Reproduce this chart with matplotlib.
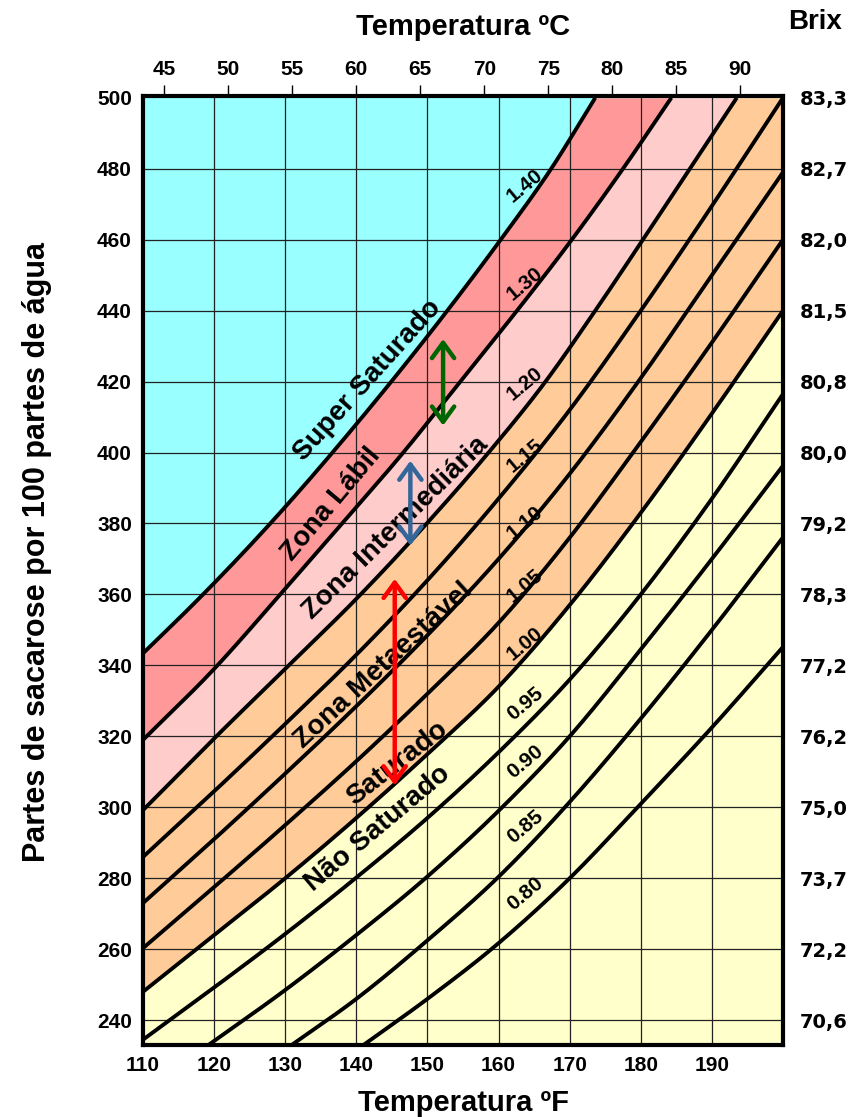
import numpy as np
import matplotlib.pyplot as plt

# each curve: temperature (°F) and parts of sucrose per 100 parts of water
t_140 = [110, 117.6, 127.9, 140, 152.8, 160.3, 167.4, 173.6]
s_140 = [343.4, 358.3, 380, 408, 440, 460, 480, 500]

t_130 = [110, 120, 129.3, 138.0, 146.6, 154.6, 162.6, 170.3, 177.5, 184.3]
s_130 = [319, 339, 360, 380, 400, 420, 440, 460, 480, 500]

t_120 = [110, 120.3, 130.5, 140.6, 149.9, 158.6, 166.6, 173.6, 180.3, 186.9, 193.5]
s_120 = [299.2, 320, 340, 360, 380, 400, 420, 440, 460, 480, 500]

t_grid = [110, 120, 130, 140, 150, 160, 170, 180, 190, 200]
s_115 = [286, 304.5, 323.5, 343, 364, 387, 412, 440, 469.5, 500]
s_110 = [273, 291, 309.5, 328.5, 348.5, 370, 394, 421, 450, 479]
s_105 = [260.3, 277.5, 295, 313, 332, 352, 376, 403, 431, 460]
s_100 = [248, 264, 280, 297, 315, 334, 357, 383, 411, 440]
s_095 = [234.5, 249.2, 264.3, 280.2, 297, 315.5, 336, 360, 387, 416.5]

t_090 = [119.2, 130, 140, 150, 160, 170, 180, 190, 200]
s_090 = [233, 248.5, 264, 280.5, 299, 320, 344.5, 370, 396.3]

t_085 = [130.9, 140, 150, 160, 170, 180, 190, 200]
s_085 = [233, 246, 262.5, 280.4, 301.5, 325, 350, 376.1]

t_080 = [141.0, 150, 160, 170, 180, 190, 200]
s_080 = [233, 246, 261.7, 280, 301, 322.5, 345.2]

coef_labels = ['1.40', '1.30', '1.20', '1.15', '1.10', '1.05', '1.00',
               '0.95', '0.90', '0.85', '0.80']
coef_label_s = [475.2, 447.5, 419.4, 399.2, 380.3, 362.5, 346.1,
                329.2, 312.8, 294.5, 275.7]

zone_names = ['Super Saturado', 'Zona Lábil', 'Zona Intermediária',
              'Zona Metaestável', 'Saturado', 'Não Saturado']
zone_t = [141.6, 136.5, 145.6, 143.8, 145.7, 143.0]
zone_s = [420.3, 385.5, 378.6, 340.0, 312.4, 294.0]
zone_rot = [48, 50, 44.5, 42.6, 38, 40]

# double arrows: temperature, low, high
arrow_t = [152.2, 147.6, 145.4]
arrow_lo = [407.6, 373.8, 306.2]
arrow_hi = [432.0, 397.7, 364.4]
arrow_colors = ['#006600', '#336699', '#ff0000']

y_ticks = list(range(240, 501, 20))
brix = ['70,6', '72,2', '73,7', '75,0', '76,2', '77,2', '78,3', '79,2',
        '80,0', '80,8', '81,5', '82,0', '82,7', '83,3']
x_ticks = list(range(110, 191, 10))
celsius = [45, 50, 55, 60, 65, 70, 75, 80, 85, 90]


def smooth(t, s, n=300):
    # cubic Hermite through the read points, for drawing only
    t = np.asarray(t, float)
    s = np.asarray(s, float)
    h = np.diff(t)
    d = np.diff(s) / h
    m = np.empty_like(s)
    m[1:-1] = (d[:-1] * h[1:] + d[1:] * h[:-1]) / (h[:-1] + h[1:])
    m[0] = d[0]
    m[-1] = d[-1]
    ts = np.linspace(t[0], t[-1], n)
    i = np.clip(np.searchsorted(t, ts) - 1, 0, len(h) - 1)
    u = (ts - t[i]) / h[i]
    ys = ((2 * u**3 - 3 * u**2 + 1) * s[i] + (u**3 - 2 * u**2 + u) * h[i] * m[i]
          + (-2 * u**3 + 3 * u**2) * s[i + 1] + (u**3 - u**2) * h[i] * m[i + 1])
    return ts, ys


plt.rcParams['font.family'] = ['Liberation Sans', 'DejaVu Sans']
plt.rcParams['font.weight'] = 'bold'

X0, X1, Y0, Y1 = 110, 200, 233, 500.5

fig = plt.figure(figsize=(8.57, 11.17), dpi=100)
ax = fig.add_axes([143 / 857, 1 - 1045 / 1117, 640 / 857, 949 / 1117])
ax.set_xlim(X0, X1)
ax.set_ylim(Y0, Y1)

lines = [(t_140, s_140), (t_130, s_130), (t_120, s_120),
         (t_grid, s_115), (t_grid, s_110), (t_grid, s_105),
         (t_grid, s_100), (t_grid, s_095),
         (t_090, s_090), (t_085, s_085), (t_080, s_080)]
drawn = [smooth(t, s) for t, s in lines]

xs = np.linspace(X0, X1, 800)
c140 = np.interp(xs, *drawn[0])
c130 = np.interp(xs, *drawn[1])
c120 = np.interp(xs, *drawn[2])
c100 = np.interp(xs, *drawn[6])

ax.fill_between(xs, c140, Y1, color='#99ffff', lw=0)
ax.fill_between(xs, c130, c140, color='#ff9999', lw=0)
ax.fill_between(xs, c120, c130, color='#ffcccc', lw=0)
ax.fill_between(xs, c100, c120, color='#ffcc99', lw=0)
ax.fill_between(xs, Y0, c100, color='#ffffcc', lw=0)

for x in x_ticks[1:]:
    ax.axvline(x, color='#222222', lw=0.9, zorder=1)
for y in y_ticks[:-1]:
    ax.axhline(y, color='#222222', lw=0.9, zorder=1)

for ts, ys in drawn:
    ax.plot(ts, ys, color='black', lw=2.8, zorder=3, solid_capstyle='butt')

for lab, s in zip(coef_labels, coef_label_s):
    ax.text(163.7, s, lab, fontsize=15, fontweight='bold', rotation=40,
            rotation_mode='anchor', ha='center', va='center', zorder=5)

for name, t, s, r in zip(zone_names, zone_t, zone_s, zone_rot):
    ax.text(t, s, name, fontsize=20, fontweight='bold', rotation=r,
            rotation_mode='anchor', ha='center', va='center', zorder=5)

for t, lo, hi, col in zip(arrow_t, arrow_lo, arrow_hi, arrow_colors):
    ax.annotate('', xy=(t, lo), xytext=(t, hi),
                arrowprops=dict(arrowstyle='<->,head_length=0.55,head_width=0.4',
                                mutation_scale=20, color=col, lw=3.2,
                                shrinkA=0, shrinkB=0),
                zorder=6)

ax.set_xticks(x_ticks)
ax.set_xticklabels([str(v) for v in x_ticks])
ax.set_yticks(y_ticks)
ax.set_yticklabels([str(v) for v in y_ticks])
ax.tick_params(axis='both', length=0, labelsize=15, pad=8)
ax.set_xlabel('Temperatura ºF', fontsize=21, fontweight='bold', labelpad=10)
ax.set_ylabel('Partes de sacarose por 100 partes de água', fontsize=22,
              fontweight='bold')
ax.yaxis.set_label_coords(-0.142, 0.52)
for sp in ax.spines.values():
    sp.set_linewidth(3)
    sp.set_zorder(10)

ax_r = ax.twinx()
ax_r.set_ylim(Y0, Y1)
ax_r.set_yticks(y_ticks)
ax_r.set_yticklabels(brix, fontfamily='DejaVu Sans', fontweight='bold')
ax_r.tick_params(axis='y', length=0, labelsize=14, pad=12)
for sp in ax_r.spines.values():
    sp.set_visible(False)

ax_t = ax.twiny()
ax_t.set_xlim(X0, X1)
ax_t.set_xticks([c * 9 / 5 + 32 for c in celsius])
ax_t.set_xticklabels([str(c) for c in celsius])
ax_t.tick_params(axis='x', length=8, width=1, labelsize=15, pad=4)
for sp in ax_t.spines.values():
    sp.set_visible(False)
ax_t.set_xlabel('Temperatura ºC', fontsize=21, fontweight='bold', labelpad=18)

fig.text(815 / 857, 1 - 22 / 1117, 'Brix', fontsize=20, fontweight='bold',
         ha='center', va='center')

fig.savefig('out.png', dpi=100)
